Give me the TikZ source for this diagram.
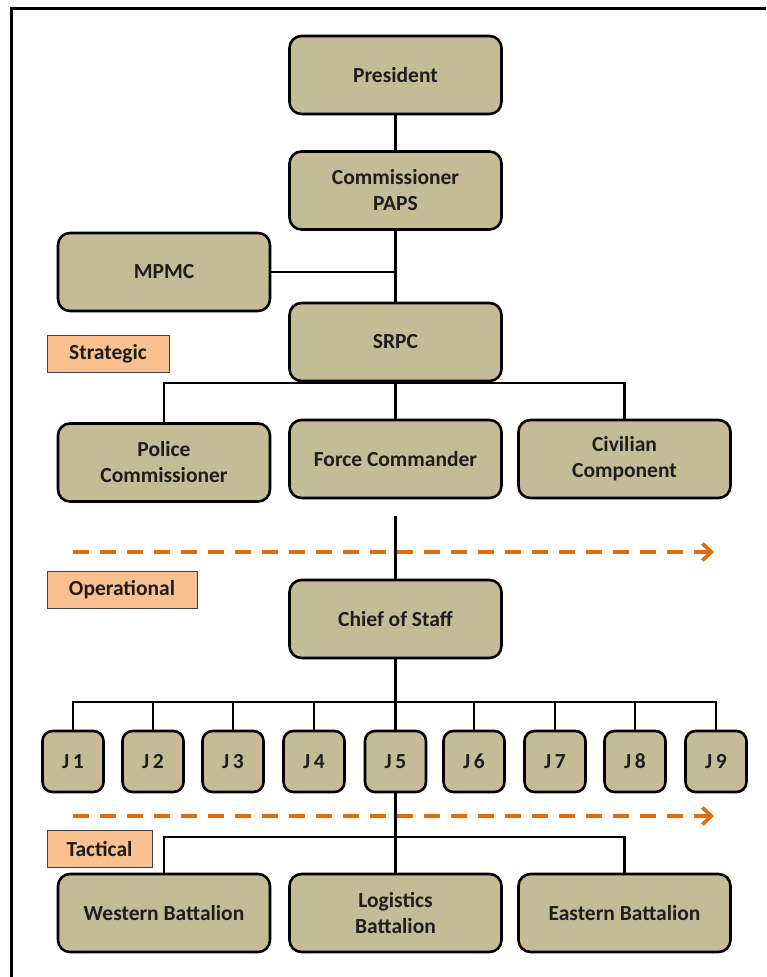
\documentclass[tikz,border=0pt]{standalone}
\usepackage{fontspec}
\setmainfont{Carlito}
\usetikzlibrary{arrows.meta,calc}
\definecolor{tanfill}{RGB}{196,188,150}
\definecolor{tagfill}{RGB}{250,192,143}
\definecolor{levelarrow}{RGB}{228,108,10}
\definecolor{inktext}{RGB}{30,30,30}
\tikzset{
  orgbox/.style={draw=black, line width=2.6pt, fill=tanfill, rounded corners=12pt,
    minimum width=212pt, minimum height=78pt, inner sep=2pt, align=center,
    text=inktext, font=\bfseries\fontsize{21.5}{26}\selectfont},
  jbox/.style={orgbox, rounded corners=10pt, minimum width=61pt, minimum height=61pt},
  leveltag/.style={draw=black!75, line width=0.8pt, fill=tagfill, minimum height=37pt,
    inner sep=0pt, text=inktext, font=\bfseries\fontsize{21.5}{26}\selectfont},
  link/.style={draw=black, line width=2.8pt},
  levelline/.style={draw=levelarrow, line width=3.6pt, dash pattern=on 16pt off 11pt,
    -{Straight Barb[length=9pt,width=17pt,line width=3.6pt]}}
}
\begin{document}
\begin{tikzpicture}[x=1pt,y=-1pt]
\useasboundingbox (0,0) rectangle (766,977);
% outer frame (top and left edges only)
\draw[line width=3pt] (11,977) -- (11,8) -- (766,8);

% strategic level
\node[orgbox] (president) at (395.5,75) {President};
\node[orgbox] (paps) at (395.5,190.5) {Commissioner\\PAPS};
\node[orgbox] (mpmc) at (164,272) {MPMC};
\node[orgbox] (srpc) at (395.5,342) {SRPC};
\node[orgbox] (police) at (164,462.5) {Police\\Commissioner};
\node[orgbox] (force) at (395.5,459) {Force Commander};
\node[orgbox] (civil) at (624.5,459) {Civilian\\Component};
\node[leveltag, minimum width=122pt] (strategic) at (108,354) {Strategic};

% operational level
\node[orgbox] (cos) at (395.5,619) {Chief of Staff};
\node[leveltag, minimum width=150pt] (operational) at (122,590) {Operational};
\foreach \i/\x in {1/73,2/153,3/233,4/314,5/395.5,6/474,7/555,8/635,9/716}
  \node[jbox] (j\i) at (\x,761.5) {J\,\i};

% tactical level
\node[orgbox] (western) at (164,913) {Western Battalion};
\node[orgbox] (logistics) at (395.5,913) {Logistics\\Battalion};
\node[orgbox] (eastern) at (624.5,913) {Eastern Battalion};
\node[leveltag, minimum width=105pt] (tactical) at (99.5,849) {Tactical};

% level boundaries
\coordinate (opA) at (73,552);
\coordinate (opB) at (714,552);
\coordinate (taA) at (73,816);
\coordinate (taB) at (714,816);
\draw[levelline] (opA) -- (opB);
\draw[levelline] (taA) -- (taB);

% chain of command
\coordinate (srpcbus) at (395.5,383);
\coordinate (jbus) at (395.5,702);
\coordinate (tbus) at (395.5,837);
\coordinate (fcgap) at (395.5,516);
\draw[link] (president) -- (paps);
\draw[link] (paps) -- (srpc);
\draw[link] (mpmc.east) -- (mpmc.east -| paps.south);
\draw[link] (srpc.south) -- (force.north);
\draw[link] (police.north) |- (srpcbus) -| (civil.north);
\draw[link] (fcgap) -- (cos.north);
\draw[link] (cos.south) -- (j5.north);
\draw[link] (j1.north) |- (jbus) -| (j9.north);
\foreach \i in {2,3,4,6,7,8}
  \draw[link] (j\i.north) -- (j\i.north |- jbus);
\draw[link] (j5.south) -- (logistics.north);
\draw[link] (western.north) |- (tbus) -| (eastern.north);
\end{tikzpicture}
\end{document}
